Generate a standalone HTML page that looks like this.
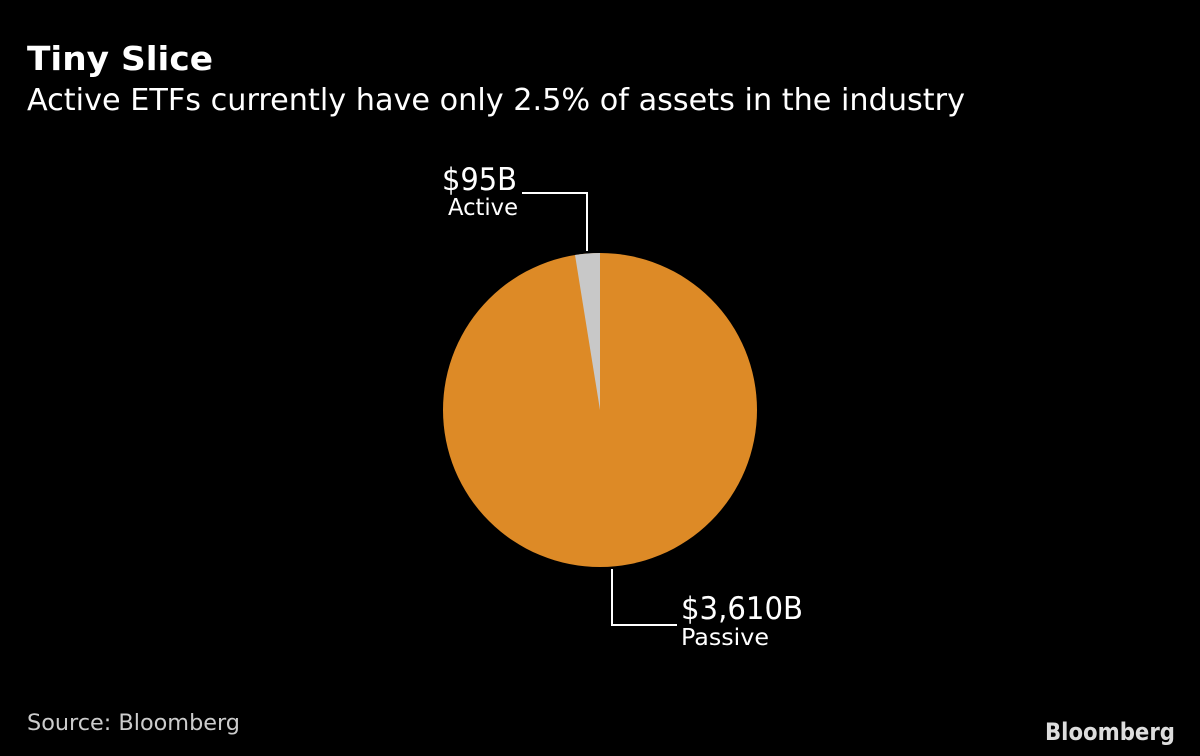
<!DOCTYPE html>
<html><head><meta charset="utf-8"><style>
html,body{margin:0;padding:0;background:#000;}
svg{display:block}
text{font-family:"DejaVu Sans","Liberation Sans",sans-serif;fill:#fff}
</style></head><body>
<svg width="1200" height="756" viewBox="0 0 1200 756">
<rect width="1200" height="756" fill="#000"/>
<text x="27" y="70" font-size="33" font-weight="bold" textLength="186" lengthAdjust="spacingAndGlyphs">Tiny Slice</text>
<text x="27" y="110" font-size="30" textLength="938" lengthAdjust="spacingAndGlyphs">Active ETFs currently have only 2.5% of assets in the industry</text>
<circle cx="600" cy="410" r="157" fill="#dd8a26"/>
<path d="M600,410 L600,253 A157,157 0 0 0 575,255 Z" fill="#c8c8c8"/>
<polyline points="522,193 587,193 587,251" fill="none" stroke="#fff" stroke-width="2"/>
<polyline points="612,569 612,625 677,625" fill="none" stroke="#fff" stroke-width="2"/>
<text x="517" y="190" font-size="31" text-anchor="end" textLength="75" lengthAdjust="spacingAndGlyphs">$95B</text>
<text x="518" y="215" font-size="23" text-anchor="end" textLength="70" lengthAdjust="spacingAndGlyphs">Active</text>
<text x="681" y="619" font-size="31" textLength="122" lengthAdjust="spacingAndGlyphs">$3,610B</text>
<text x="681" y="645" font-size="23" textLength="88" lengthAdjust="spacingAndGlyphs">Passive</text>
<text x="27" y="730" font-size="22" style="fill:#ccc" textLength="213" lengthAdjust="spacingAndGlyphs">Source: Bloomberg</text>
<text x="1045" y="740" font-size="24" font-weight="bold" style="fill:#ddd" textLength="130" lengthAdjust="spacingAndGlyphs">Bloomberg</text>
</svg>
</body></html>
